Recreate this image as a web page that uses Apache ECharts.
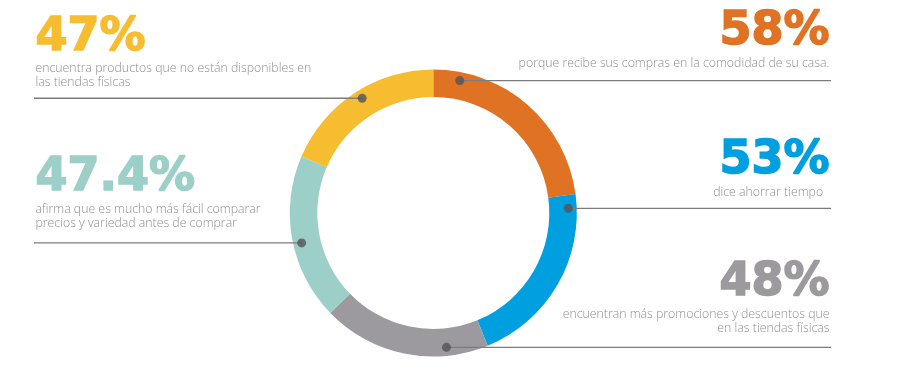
<!DOCTYPE html>
<html><head><meta charset="utf-8">
<script src="https://cdn.jsdelivr.net/npm/echarts@6/dist/echarts.min.js"></script>
<style>html,body{margin:0;padding:0;background:#fff}#c{width:900px;height:381px}</style>
</head><body><div id="c"></div>
<script>
// ---- data ----
const categories = ['comodidad', 'tiempo', 'promociones', 'comparar', 'productos'];
const values = [58, 53, 48, 47.4, 47];
const valueLabels = ['58%', '53%', '48%', '47.4%', '47%'];
const descriptions = [
  ['porque recibe sus compras en la comodidad de su casa.'],
  ['dice ahorrar tiempo  '],
  ['encuentran más promociones y descuentos que', 'en las tiendas físicas'],
  ['afirma que es mucho más fácil comparar', 'precios y variedad antes de comprar'],
  ['encuentra productos que no están disponibles en', 'las tiendas físicas']
];
const markerAngles = [11.3, 88, 174.4, 257.2, 328.2];

// ---- styles / layout ----
const colors = ['#E07323', '#009FDF', '#9C9A9F', '#9CCFC8', '#F7BD31'];
const sides = ['right', 'right', 'right', 'left', 'left'];
const numberBaselines = [45, 174, 296.7, 191.7, 51.7];
const descBaselines = [66.7, 196, 318.3, 212.7, 71.7];
const CX = 433.3, CY = 213, R_OUT = 143.5, R_IN = 116, R_DOT = 135;
const LEFT_X = 34, RIGHT_X = 831;
const BIG_FS = 46, SMALL_FS = 12.3, SMALL_LH = 14;

const chart = echarts.init(document.getElementById('c'), null, { renderer: 'canvas' });
const option = {
  animation: false,
  backgroundColor: '#fff',
  polar: { center: [CX, CY], radius: R_OUT },
  angleAxis: { type: 'value', min: 0, max: 360, startAngle: 90, clockwise: true, show: false },
  radiusAxis: { type: 'value', min: 0, max: R_OUT, show: false },
  series: [
    {
      type: 'pie',
      center: [CX, CY],
      radius: [R_IN, R_OUT],
      startAngle: 90,
      clockwise: true,
      label: { show: false },
      labelLine: { show: false },
      silent: true,
      itemStyle: { borderWidth: 0 },
      data: categories.map((c, i) => ({ name: c, value: values[i], itemStyle: { color: colors[i] } }))
    },
    {
      type: 'scatter',
      coordinateSystem: 'polar',
      symbolSize: 9,
      silent: true,
      z: 5,
      itemStyle: { color: '#545257' },
      data: markerAngles.map(a => [R_DOT, a])
    }
  ]
};
chart.setOption(option);

const graphics = [];
markerAngles.forEach((a, i) => {
  const p = chart.convertToPixel({ seriesIndex: 1 }, [R_DOT, a]);
  const right = sides[i] === 'right';
  graphics.push({
    type: 'line', z: 3, silent: true,
    shape: { x1: p[0], y1: p[1], x2: right ? RIGHT_X : LEFT_X, y2: p[1] },
    style: { stroke: '#7c7c7c', lineWidth: 1.3 }
  });
  const ax = right ? RIGHT_X - 1.5 : LEFT_X + 1.5;
  graphics.push({
    type: 'text', silent: true,
    style: {
      text: valueLabels[i], x: ax, y: numberBaselines[i] - 0.29 * BIG_FS,
      fill: colors[i], stroke: colors[i], lineWidth: 1.6,
      font: 'bold ' + BIG_FS + 'px "DejaVu Sans"',
      textAlign: right ? 'right' : 'left', textVerticalAlign: 'middle'
    }
  });
  descriptions[i].forEach((line, k) => {
    graphics.push({
      type: 'text', silent: true,
      style: {
        text: line, x: ax, y: descBaselines[i] + k * SMALL_LH - 0.3 * SMALL_FS,
        fill: '#8e8e8e', font: '300 ' + SMALL_FS + 'px "Open Sans"',
        textAlign: right ? 'right' : 'left', textVerticalAlign: 'middle'
      }
    });
  });
});
chart.setOption({ graphic: graphics });
</script>
</body></html>
